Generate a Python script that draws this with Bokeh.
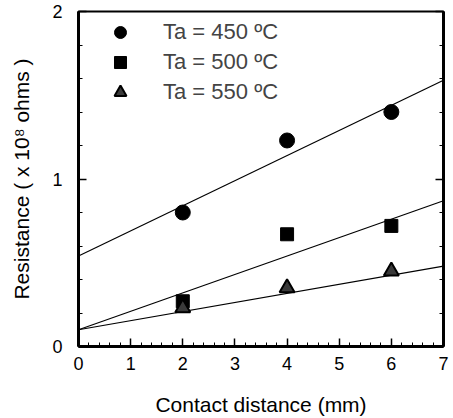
from bokeh.plotting import figure
from bokeh.models import LinearAxis, Legend, LegendItem, Range1d, FixedTicker, CustomJSTickFormatter
from bokeh.embed import file_html
from bokeh.resources import INLINE

# data
distance = [2, 4, 6]
r450 = [0.80, 1.23, 1.40]
r500 = [0.27, 0.67, 0.72]
r550 = [0.23, 0.35, 0.45]

fit_x = [0, 7]
fit450 = [0.54, 1.59]
fit500 = [0.10, 0.87]
fit550 = [0.10, 0.48]

labels = ["Ta = 450 \u00baC", "Ta = 500 \u00baC", "Ta = 550 \u00baC"]
x_ticks = [0, 1, 2, 3, 4, 5, 6, 7]
x_minor = [i / 5 for i in range(0, 36)]
y_ticks = [0, 1, 2]
y_minor = [i / 5 for i in range(0, 11)]

FONT = "Liberation Sans"

p = figure(width=453, height=418, output_backend="svg", toolbar_location=None,
           x_range=Range1d(0, 7), y_range=Range1d(0, 2),
           min_border_left=78, min_border_right=10, min_border_top=11, min_border_bottom=71)
p.grid.visible = False
p.outline_line_color = "black"
p.outline_line_width = 2
p.background_fill_color = "white"
p.border_fill_color = "white"

p.xaxis[0].ticker = FixedTicker(ticks=x_ticks, minor_ticks=x_minor)
p.yaxis[0].ticker = FixedTicker(ticks=y_ticks, minor_ticks=y_minor)

for ax in (p.xaxis[0], p.yaxis[0]):
    ax.axis_line_width = 3
    ax.major_tick_in = 8
    ax.major_tick_out = 0
    ax.minor_tick_in = 4
    ax.minor_tick_out = 0
    ax.major_tick_line_width = 1.5
    ax.minor_tick_line_width = 1
    ax.major_label_text_font = FONT
    ax.major_label_text_font_size = "18px"
    ax.major_label_text_color = "black"
    ax.axis_label_text_font = FONT
    ax.axis_label_text_font_size = "21px"
    ax.axis_label_text_font_style = "normal"
    ax.axis_label_text_color = "black"

p.xaxis.major_label_standoff = 10
p.yaxis.major_label_standoff = 16
p.xaxis.axis_label = "Contact distance (mm)"
p.yaxis.axis_label = "Resistance ( x 10\u2078 ohms )"
p.xaxis.axis_label_standoff = 20
p.yaxis.axis_label_standoff = 16

right = LinearAxis(axis_line_width=3, major_tick_in=8, major_tick_out=0,
                   minor_tick_in=4, minor_tick_out=0, major_tick_line_width=1.5,
                   ticker=FixedTicker(ticks=y_ticks, minor_ticks=y_minor),
                   formatter=CustomJSTickFormatter(code="return ''"),
                   major_label_standoff=0)
p.add_layout(right, "right")

p.line(fit_x, fit450, line_color="black", line_width=1.2)
p.line(fit_x, fit500, line_color="black", line_width=1.2)
p.line(fit_x, fit550, line_color="black", line_width=1.2)

c = p.scatter(distance, r450, marker="circle", size=15, fill_color="black", line_color="black")
s = p.scatter(distance, r500, marker="square", size=13, fill_color="black", line_color="black")
t = p.scatter(distance, r550, marker="triangle", size=15, fill_color="#3a3a3a", line_color="black", line_width=2)

legend = Legend(items=[LegendItem(label=labels[0], renderers=[c]),
                       LegendItem(label=labels[1], renderers=[s]),
                       LegendItem(label=labels[2], renderers=[t])],
                location=(22, 239), margin=0, padding=0, spacing=0,
                glyph_width=40, glyph_height=30, label_standoff=23,
                label_text_font=FONT, label_text_font_size="22px",
                border_line_color=None, background_fill_alpha=0)
p.add_layout(legend)

open("out.html", "w").write(file_html(p, INLINE))
